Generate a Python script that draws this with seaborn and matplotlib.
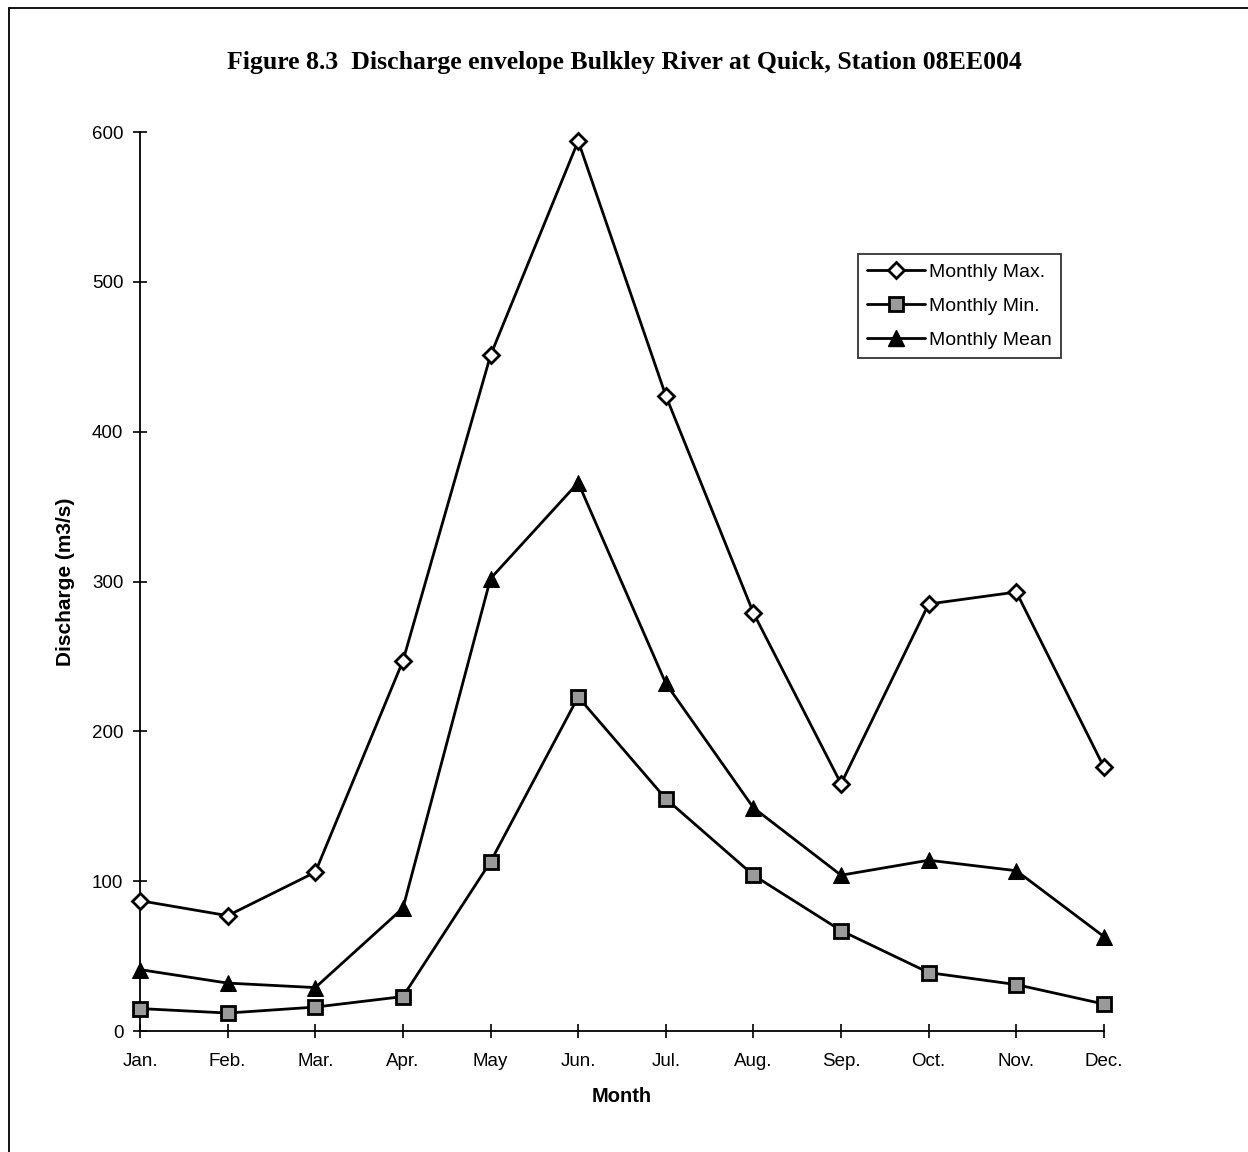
import matplotlib
matplotlib.use("Agg")
import matplotlib.pyplot as plt
import seaborn as sns
import pandas as pd
from matplotlib.lines import Line2D

months = ["Jan.", "Feb.", "Mar.", "Apr.", "May", "Jun.", "Jul.", "Aug.", "Sep.", "Oct.", "Nov.", "Dec."]
monthly_max = [87, 77, 106, 247, 451, 594, 424, 279, 165, 285, 293, 176]
monthly_min = [15, 12, 16, 23, 113, 223, 155, 104, 67, 39, 31, 18]
monthly_mean = [41, 32, 29, 82, 302, 366, 232, 149, 104, 114, 107, 63]
series_names = ["Monthly Max.", "Monthly Min.", "Monthly Mean"]

sns.set_style("white")
plt.rcParams["font.family"] = ["Liberation Sans", "DejaVu Sans"]
plt.rcParams["text.color"] = "black"
plt.rcParams["axes.labelcolor"] = "black"
plt.rcParams["xtick.color"] = "black"
plt.rcParams["ytick.color"] = "black"

df = pd.DataFrame({
    "Month": months * 3,
    "idx": list(range(12)) * 3,
    "Discharge": monthly_max + monthly_min + monthly_mean,
    "Series": [series_names[0]] * 12 + [series_names[1]] * 12 + [series_names[2]] * 12,
})

fig = plt.figure(figsize=(12.48, 11.52), dpi=100)
ax = fig.add_axes([0.1122, 0.105, 0.7724, 0.7804])

styles = {
    "Monthly Max.": dict(marker="D", markersize=8, markerfacecolor="white", markeredgecolor="black", markeredgewidth=2),
    "Monthly Min.": dict(marker="s", markersize=10, markerfacecolor="#9a9a9a", markeredgecolor="black", markeredgewidth=2),
    "Monthly Mean": dict(marker="^", markersize=11, markerfacecolor="black", markeredgecolor="black"),
}
for name in series_names:
    sub = df[df["Series"] == name]
    sns.lineplot(data=sub, x="idx", y="Discharge", ax=ax, color="black", linewidth=2,
                 legend=False, clip_on=False, zorder=3, **styles[name])

ax.set_xlim(0, 11)
ax.set_ylim(0, 600)
ax.set_xticks(range(12))
ax.set_xticklabels(months, fontsize=13.5)
ax.set_yticks(range(0, 601, 100))
ax.tick_params(axis="y", left=True, labelsize=13.5, direction="inout", length=10, width=1.2, pad=7)
ax.tick_params(axis="x", bottom=True, labelsize=13.5, direction="inout", length=10, width=1.2, pad=11)
for s in ["top", "right"]:
    ax.spines[s].set_visible(False)
for s in ["left", "bottom"]:
    ax.spines[s].set_linewidth(1.3)
    ax.spines[s].set_color("black")
ax.set_xlabel("Month", fontsize=14.5, fontweight="bold", labelpad=12)
ax.set_ylabel("Discharge (m3/s)", fontsize=15, fontweight="bold", labelpad=12)

handles = [Line2D([0], [0], color="black", linewidth=2, **styles[n]) for n in series_names]
leg = ax.legend(handles, series_names, loc="upper left", bbox_to_anchor=(0.745, 0.864),
                fontsize=14, frameon=True, fancybox=False, edgecolor="black",
                handlelength=3, borderpad=0.45, labelspacing=0.85, handletextpad=0.2,
                borderaxespad=0)
leg.get_frame().set_linewidth(1.3)

fig.text(0.5, 0.946, "Figure 8.3  Discharge envelope Bulkley River at Quick, Station 08EE004",
         ha="center", va="center", fontsize=18.5, fontweight="bold", family=["Liberation Serif", "DejaVu Serif"])

fig.add_artist(Line2D([0.007, 1.0], [0.993, 0.993], color="black", linewidth=1.3, transform=fig.transFigure))
fig.add_artist(Line2D([0.007, 0.007], [0.993, 0.0], color="black", linewidth=1.3, transform=fig.transFigure))

fig.savefig("out.png", dpi=100)
